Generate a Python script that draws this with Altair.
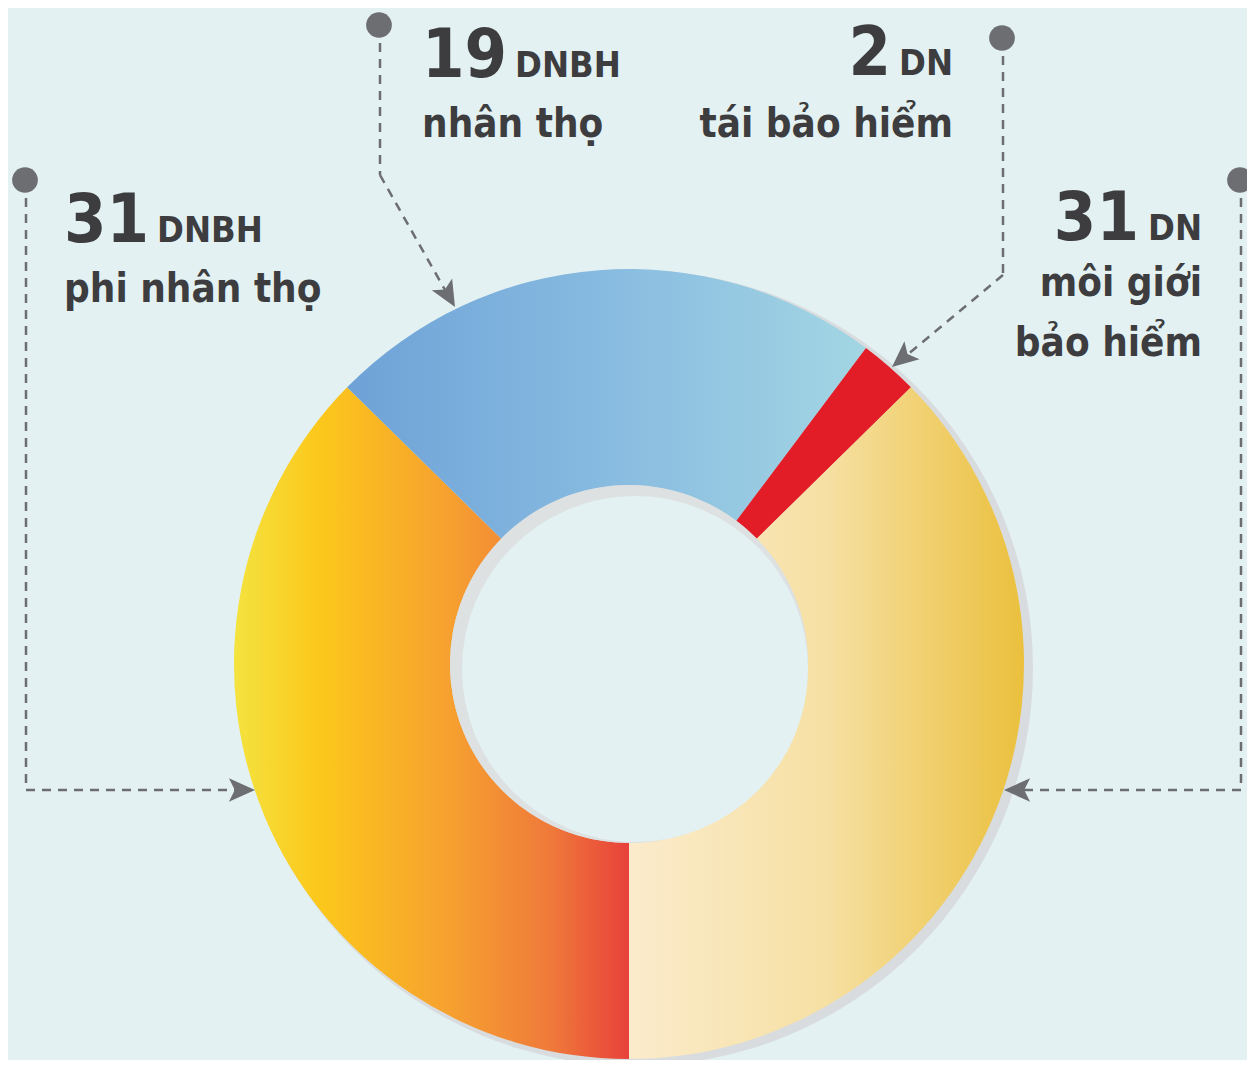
import altair as alt
import pandas as pd

# ---------------- data ----------------
categories = ["phi nhân thọ", "nhân thọ", "tái bảo hiểm", "môi giới\nbảo hiểm"]
counts = [31, 19, 2, 31]
numbers = ["31", "19", "2", "31"]
units = ["DNBH", "DNBH", "DN", "DN"]

df = pd.DataFrame({
    "idx": list(range(len(categories))),
    "cat": categories,
    "n": counts,
    "num": numbers,
    "unit": units,
})

# ---------------- style ----------------
BG = "#E3F1F2"
TXT = "#3D3D3F"
LEAD = "#6D6E71"
FONT = '"Liberation Sans Narrow", "DejaVu Sans Condensed", "Roboto", sans-serif'
W, H = 1239, 1052
CX, CY = 621, 656
R_OUT, R_IN = 395, 179


def grad(stops):
    return alt.LinearGradient(
        gradient="linear", x1=0, y1=0, x2=1, y2=0,
        stops=[alt.GradientStop(color=c, offset=o) for o, c in stops],
    )


seg_colors = [
    grad([(0, "#F4E33F"), (0.22, "#FCC71B"), (0.55, "#F6A030"), (0.8, "#EF7A3A"), (1, "#E8413A")]),
    grad([(0, "#6EA2D7"), (0.5, "#88BBE0"), (1, "#A3D6E3")]),
    "#E31D27",
    grad([(0, "#FBEBCC"), (0.5, "#F6E0A3"), (1, "#EBC03D")]),
]

base = (
    alt.Chart(df)
    .transform_window(cum="sum(n)", sort=[alt.SortField("idx")], frame=[None, 0])
    .transform_joinaggregate(total="sum(n)")
    .transform_calculate(
        t0="PI + 2*PI*(datum.cum - datum.n)/datum.total",
        t1="PI + 2*PI*datum.cum/datum.total",
    )
)

one = alt.Data(values=[{"k": 1}])

layers = []

# shadow of the donut
layers.append(
    alt.Chart(one).mark_arc(outerRadius=R_OUT + 3, innerRadius=0, theta=0, theta2=6.2832,
                            color="#D9DCDE")
    .encode(x=alt.value(CX + 6), y=alt.value(CY + 4))
)

# donut segments
for i, col in enumerate(seg_colors):
    layers.append(
        base.transform_filter(alt.datum.idx == i)
        .mark_arc(outerRadius=R_OUT, innerRadius=R_IN, color=col)
        .encode(
            theta=alt.Theta("t0:Q", scale=None),
            theta2="t1:Q",
            x=alt.value(CX), y=alt.value(CY),
        )
    )

# hole with inner shadow
layers.append(
    alt.Chart(one).mark_arc(outerRadius=R_IN, innerRadius=0, theta=0, theta2=6.2832,
                            color="#DDE1E2")
    .encode(x=alt.value(CX), y=alt.value(CY))
)
layers.append(
    alt.Chart(one).mark_arc(outerRadius=R_IN - 6, innerRadius=0, theta=0, theta2=6.2832,
                            color=BG)
    .encode(x=alt.value(CX + 6), y=alt.value(CY + 5))
)

# ---------------- leader lines ----------------
def seg(x1, y1, x2, y2):
    return (
        alt.Chart(one).mark_rule(color=LEAD, strokeWidth=2.5, strokeDash=[9, 7])
        .encode(x=alt.value(x1), y=alt.value(y1), x2=alt.value(x2), y2=alt.value(y2))
    )


def dot(x, y):
    return (
        alt.Chart(one).mark_point(shape="circle", filled=True, size=660, color=LEAD, opacity=1)
        .encode(x=alt.value(x), y=alt.value(y))
    )


ARROW = "M0,0 L-2,-0.9 L-1.55,0 L-2,0.9 Z"


def arrow(x, y, ang):
    return (
        alt.Chart(one).mark_point(shape=ARROW, filled=True, size=680, color=LEAD,
                                  opacity=1, angle=ang)
        .encode(x=alt.value(x), y=alt.value(y))
    )


# A: phi nhan tho (left)
layers += [seg(18, 190, 18, 782), seg(18, 782, 236, 782), dot(17, 172), arrow(247, 782, 0)]
# B: nhan tho
layers += [seg(372, 35, 372, 167), seg(372, 167, 441, 289), dot(371, 17), arrow(447, 299, 60)]
# C: tai bao hiem
layers += [seg(995, 48, 995, 267), seg(995, 267, 893, 352), dot(994, 30), arrow(884, 359, 140)]
# D: moi gioi
layers += [seg(1233, 190, 1233, 782), seg(1233, 782, 1007, 782), dot(1232, 172), arrow(996, 782, 180)]

# ---------------- labels ----------------
label_pos = [
    # (num_x, num_align, unit_x, num_y, cat_x, cat_y, cat_align)
    (56, "left", 149, 234, 56, 294, "left"),
    (414, "left", 507, 69, 414, 129, "left"),
    (883, "right", 945, 67, 945, 129, "right"),
    (1131, "right", 1194, 232, 1194, 288, "right"),
]

for i, (nx, nal, ux, ny, cx_, cy_, cal) in enumerate(label_pos):
    sub = alt.Chart(df).transform_filter(alt.datum.idx == i)
    layers.append(
        sub.mark_text(font=FONT, fontWeight="bold", fontSize=68, color=TXT,
                      align=nal, baseline="alphabetic")
        .encode(text="num:N", x=alt.value(nx), y=alt.value(ny))
    )
    layers.append(
        sub.mark_text(font=FONT, fontWeight="bold", fontSize=36, color=TXT,
                      align="right" if nal == "right" else "left", baseline="alphabetic")
        .encode(text="unit:N", x=alt.value(ux), y=alt.value(ny))
    )
    layers.append(
        sub.mark_text(font=FONT, fontWeight="bold", fontSize=40, color=TXT,
                      align=cal, baseline="alphabetic", lineBreak="\n", lineHeight=60)
        .encode(text="cat:N", x=alt.value(cx_), y=alt.value(cy_))
    )

chart = (
    alt.layer(*layers)
    .properties(width=W, height=H, autosize=alt.AutoSizeParams(type="none"), padding=0,
                background=BG)
    .configure_view(stroke=None)
)

chart.save("out.html", embed_options={"renderer": "svg", "actions": False})
